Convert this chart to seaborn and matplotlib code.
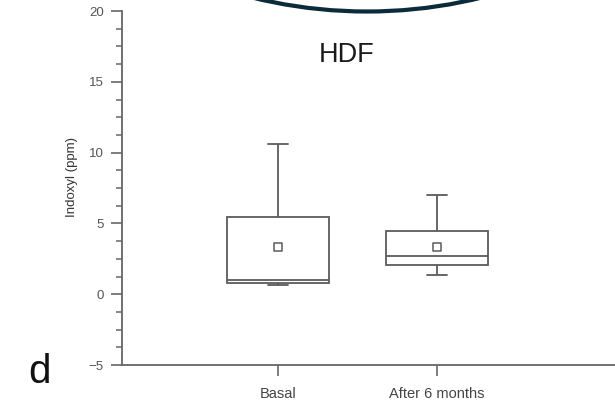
import matplotlib
matplotlib.use("Agg")
import matplotlib.pyplot as plt
from matplotlib.patches import Ellipse
from matplotlib.ticker import MultipleLocator
import numpy as np
import pandas as pd
import seaborn as sns

# Indoxyl (ppm) summary per period: whisker ends, quartiles, median, mean
periods = ["Basal", "After 6 months"]
whisker_low = [0.65, 1.36]
q1 = [0.77, 2.06]
median = [1.0, 2.72]
q3 = [5.43, 4.46]
whisker_high = [10.6, 7.0]
mean = [3.35, 3.35]

W, H = 615, 403
sns.set_style("ticks")
plt.rcParams["font.family"] = ["Liberation Sans", "DejaVu Sans"]

fig = plt.figure(figsize=(W / 100, H / 100), dpi=100)
ax = fig.add_axes([121.7 / W, 38 / H, (W - 121.7) / W, 354 / H])

# Long-form table of the five summary points per period; with whis=(0, 100)
# the box spans q1..q3 and the whiskers reach the extremes.
rows = []
for p, a, b, c, d, e in zip(periods, whisker_low, q1, median, q3, whisker_high):
    for v in (a, b, c, d, e):
        rows.append({"period": p, "value": v})
df = pd.DataFrame(rows)

line_col = "#5a5a5a"
sns.boxplot(
    data=df, x="period", y="value", order=periods,
    whis=(0, 100), width=0.64, color="white", linecolor=line_col,
    linewidth=1.3, showfliers=False, capwidths=0.13, ax=ax,
)

# Mean markers: open squares
sns.scatterplot(
    x=np.arange(len(periods)), y=mean, marker="s", s=34,
    facecolor="white", edgecolor=line_col, linewidth=1.1, zorder=5, ax=ax,
)

ax.set_xlim(-0.983, 2.12)
ax.set_ylim(-5, 20)
ax.yaxis.set_major_locator(MultipleLocator(5))
ax.yaxis.set_minor_locator(MultipleLocator(1.25))
ax.set_xlabel("")
ax.set_ylabel("")

for side in ("top", "right"):
    ax.spines[side].set_visible(False)
for side in ("left", "bottom"):
    ax.spines[side].set_color("#666666")
    ax.spines[side].set_linewidth(1.3)

ax.tick_params(axis="y", which="major", length=8, width=1.2, color="#666666",
               labelsize=9.5, labelcolor="#555555", pad=5)
ax.tick_params(axis="y", which="minor", length=4.3, width=1.1, color="#666666")
ax.tick_params(axis="x", which="major", length=8, width=1.2, color="#666666",
               labelsize=10.5, labelcolor="#444444", pad=8)

fig.text(72.5 / W, 1 - 177 / H, "Indoxyl (ppm)", rotation=90,
         ha="center", va="center", fontsize=9.5, color="#333333")
fig.text(347 / W, 1 - 61.7 / H, "HDF", ha="center", va="baseline",
         fontsize=19.5, color="#1a1a1a")
fig.text(28 / W, 1 - 383 / H, "d", ha="left", va="baseline",
         fontsize=29, color="#111111")

# Dark rim partially visible along the top edge
fig.add_artist(Ellipse((367 / W, 1 + 467.5 / H), 2 * 479 / W, 2 * 479 / H,
                       transform=fig.transFigure, fill=False,
                       edgecolor="#0b2a3a", linewidth=3.0))

fig.savefig("out.png", dpi=100)
